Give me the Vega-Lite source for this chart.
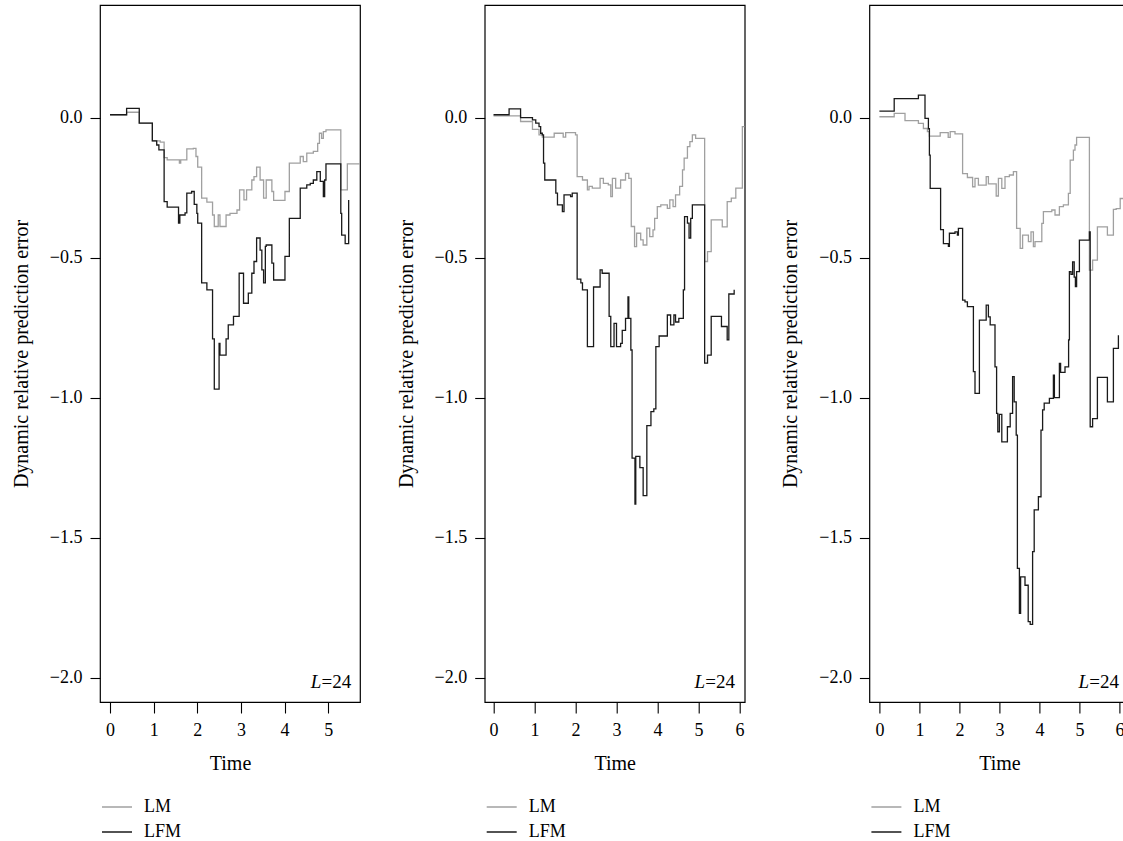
{
  "$schema": "https://vega.github.io/schema/vega-lite/v6.json",
  "background": "white",
  "padding": {"left": 10, "top": 4, "right": 0, "bottom": 0},
  "config": {
    "font": "Liberation Serif",
    "view": {"stroke": "#000000", "strokeWidth": 1.2},
    "axis": {
      "grid": false,
      "domain": false,
      "tickColor": "#000000",
      "tickWidth": 1.1,
      "labelColor": "#000000",
      "titleColor": "#000000",
      "labelFont": "Liberation Serif",
      "titleFont": "Liberation Serif",
      "labelFontSize": 18,
      "titleFontSize": 20,
      "titleFontWeight": "normal"
    },
    "axisY": {"tickSize": 10, "labelPadding": 8, "titlePadding": 18},
    "axisX": {"tickSize": 11, "labelPadding": 8, "titlePadding": 14},
    "legend": {
      "orient": "none",
      "legendX": 1,
      "legendY": 786,
      "symbolType": "stroke",
      "symbolSize": 900,
      "symbolStrokeWidth": 1.5,
      "labelFont": "Liberation Serif",
      "labelFontSize": 18,
      "labelColor": "#000000",
      "labelOffset": 11,
      "rowPadding": -2,
      "padding": 0,
      "title": null
    }
  },
  "datasets": {
    "p1": [
      {"model":"LM","t":0,"v":0.01},{"model":"LM","t":0.38,"v":0.019},{"model":"LM","t":0.67,"v":-0.02},{"model":"LM","t":0.97,"v":-0.083},{"model":"LM","t":1.15,"v":-0.088},{"model":"LM","t":1.24,"v":-0.143},{"model":"LM","t":1.31,"v":-0.151},{"model":"LM","t":1.59,"v":-0.163},{"model":"LM","t":1.62,"v":-0.151},{"model":"LM","t":1.76,"v":-0.112},{"model":"LM","t":1.91,"v":-0.11},{"model":"LM","t":1.97,"v":-0.139},{"model":"LM","t":2.01,"v":-0.177},{"model":"LM","t":2.10,"v":-0.288},{"model":"LM","t":2.22,"v":-0.302},{"model":"LM","t":2.35,"v":-0.348},{"model":"LM","t":2.39,"v":-0.389},{"model":"LM","t":2.48,"v":-0.348},{"model":"LM","t":2.52,"v":-0.389},{"model":"LM","t":2.66,"v":-0.348},{"model":"LM","t":2.75,"v":-0.342},{"model":"LM","t":2.91,"v":-0.33},{"model":"LM","t":2.97,"v":-0.258},{"model":"LM","t":3.07,"v":-0.294},{"model":"LM","t":3.13,"v":-0.258},{"model":"LM","t":3.25,"v":-0.223},{"model":"LM","t":3.30,"v":-0.211},{"model":"LM","t":3.36,"v":-0.177},{"model":"LM","t":3.44,"v":-0.223},{"model":"LM","t":3.52,"v":-0.288},{"model":"LM","t":3.58,"v":-0.223},{"model":"LM","t":3.71,"v":-0.264},{"model":"LM","t":3.75,"v":-0.296},{"model":"LM","t":4.01,"v":-0.264},{"model":"LM","t":4.11,"v":-0.163},{"model":"LM","t":4.36,"v":-0.139},{"model":"LM","t":4.43,"v":-0.157},{"model":"LM","t":4.51,"v":-0.127},{"model":"LM","t":4.66,"v":-0.121},{"model":"LM","t":4.76,"v":-0.092},{"model":"LM","t":4.80,"v":-0.056},{"model":"LM","t":4.85,"v":-0.074},{"model":"LM","t":4.89,"v":-0.05},{"model":"LM","t":4.95,"v":-0.044},{"model":"LM","t":5.29,"v":-0.258},{"model":"LM","t":5.44,"v":-0.165},{"model":"LM","t":5.73,"v":-0.165},
      {"model":"LFM","t":0,"v":0.01},{"model":"LFM","t":0.38,"v":0.033},{"model":"LFM","t":0.67,"v":-0.02},{"model":"LFM","t":0.97,"v":-0.083},{"model":"LFM","t":1.07,"v":-0.098},{"model":"LFM","t":1.12,"v":-0.115},{"model":"LFM","t":1.24,"v":-0.30},{"model":"LFM","t":1.31,"v":-0.32},{"model":"LFM","t":1.57,"v":-0.377},{"model":"LFM","t":1.60,"v":-0.348},{"model":"LFM","t":1.72,"v":-0.34},{"model":"LFM","t":1.76,"v":-0.27},{"model":"LFM","t":1.87,"v":-0.264},{"model":"LFM","t":1.93,"v":-0.31},{"model":"LFM","t":1.99,"v":-0.342},{"model":"LFM","t":2.01,"v":-0.377},{"model":"LFM","t":2.10,"v":-0.59},{"model":"LFM","t":2.22,"v":-0.615},{"model":"LFM","t":2.35,"v":-0.79},{"model":"LFM","t":2.39,"v":-0.97},{"model":"LFM","t":2.50,"v":-0.806},{"model":"LFM","t":2.52,"v":-0.848},{"model":"LFM","t":2.66,"v":-0.79},{"model":"LFM","t":2.71,"v":-0.74},{"model":"LFM","t":2.83,"v":-0.71},{"model":"LFM","t":2.96,"v":-0.556},{"model":"LFM","t":3.06,"v":-0.663},{"model":"LFM","t":3.17,"v":-0.627},{"model":"LFM","t":3.25,"v":-0.556},{"model":"LFM","t":3.30,"v":-0.514},{"model":"LFM","t":3.36,"v":-0.43},{"model":"LFM","t":3.44,"v":-0.473},{"model":"LFM","t":3.48,"v":-0.544},{"model":"LFM","t":3.52,"v":-0.59},{"model":"LFM","t":3.56,"v":-0.46},{"model":"LFM","t":3.58,"v":-0.455},{"model":"LFM","t":3.71,"v":-0.52},{"model":"LFM","t":3.75,"v":-0.58},{"model":"LFM","t":4.01,"v":-0.496},{"model":"LFM","t":4.11,"v":-0.36},{"model":"LFM","t":4.36,"v":-0.252},{"model":"LFM","t":4.51,"v":-0.24},{"model":"LFM","t":4.59,"v":-0.235},{"model":"LFM","t":4.66,"v":-0.223},{"model":"LFM","t":4.74,"v":-0.193},{"model":"LFM","t":4.82,"v":-0.228},{"model":"LFM","t":4.89,"v":-0.282},{"model":"LFM","t":4.92,"v":-0.223},{"model":"LFM","t":4.95,"v":-0.165},{"model":"LFM","t":5.29,"v":-0.342},{"model":"LFM","t":5.31,"v":-0.42},{"model":"LFM","t":5.39,"v":-0.45},{"model":"LFM","t":5.47,"v":-0.294}
    ],
    "p2": [
      {"model":"LM","t":0,"v":0.006},{"model":"LM","t":0.66,"v":-0.014},{"model":"LM","t":0.95,"v":-0.042},{"model":"LM","t":1.11,"v":-0.062},{"model":"LM","t":1.19,"v":-0.07},{"model":"LM","t":1.48,"v":-0.056},{"model":"LM","t":1.70,"v":-0.07},{"model":"LM","t":1.76,"v":-0.054},{"model":"LM","t":2.00,"v":-0.062},{"model":"LM","t":2.04,"v":-0.211},{"model":"LM","t":2.17,"v":-0.223},{"model":"LM","t":2.29,"v":-0.258},{"model":"LM","t":2.33,"v":-0.246},{"model":"LM","t":2.41,"v":-0.252},{"model":"LM","t":2.60,"v":-0.217},{"model":"LM","t":2.68,"v":-0.235},{"model":"LM","t":2.80,"v":-0.24},{"model":"LM","t":2.86,"v":-0.282},{"model":"LM","t":2.90,"v":-0.217},{"model":"LM","t":2.98,"v":-0.252},{"model":"LM","t":3.10,"v":-0.223},{"model":"LM","t":3.22,"v":-0.199},{"model":"LM","t":3.30,"v":-0.217},{"model":"LM","t":3.36,"v":-0.389},{"model":"LM","t":3.44,"v":-0.461},{"model":"LM","t":3.49,"v":-0.413},{"model":"LM","t":3.59,"v":-0.437},{"model":"LM","t":3.65,"v":-0.455},{"model":"LM","t":3.74,"v":-0.395},{"model":"LM","t":3.81,"v":-0.425},{"model":"LM","t":3.89,"v":-0.401},{"model":"LM","t":3.93,"v":-0.36},{"model":"LM","t":3.995,"v":-0.318},{"model":"LM","t":4.08,"v":-0.312},{"model":"LM","t":4.24,"v":-0.324},{"model":"LM","t":4.30,"v":-0.294},{"model":"LM","t":4.38,"v":-0.318},{"model":"LM","t":4.44,"v":-0.276},{"model":"LM","t":4.54,"v":-0.246},{"model":"LM","t":4.61,"v":-0.187},{"model":"LM","t":4.65,"v":-0.145},{"model":"LM","t":4.73,"v":-0.104},{"model":"LM","t":4.79,"v":-0.086},{"model":"LM","t":4.85,"v":-0.062},{"model":"LM","t":4.93,"v":-0.074},{"model":"LM","t":5.15,"v":-0.514},{"model":"LM","t":5.22,"v":-0.479},{"model":"LM","t":5.31,"v":-0.365},{"model":"LM","t":5.58,"v":-0.39},{"model":"LM","t":5.70,"v":-0.30},{"model":"LM","t":5.80,"v":-0.288},{"model":"LM","t":5.91,"v":-0.252},{"model":"LM","t":6.07,"v":-0.032},{"model":"LM","t":6.13,"v":-0.032},
      {"model":"LFM","t":0,"v":0.01},{"model":"LFM","t":0.38,"v":0.031},{"model":"LFM","t":0.66,"v":0.0},{"model":"LFM","t":0.95,"v":-0.008},{"model":"LFM","t":1.03,"v":-0.02},{"model":"LFM","t":1.11,"v":-0.032},{"model":"LFM","t":1.15,"v":-0.056},{"model":"LFM","t":1.19,"v":-0.062},{"model":"LFM","t":1.22,"v":-0.163},{"model":"LFM","t":1.25,"v":-0.223},{"model":"LFM","t":1.52,"v":-0.27},{"model":"LFM","t":1.56,"v":-0.312},{"model":"LFM","t":1.68,"v":-0.336},{"model":"LFM","t":1.72,"v":-0.276},{"model":"LFM","t":1.88,"v":-0.282},{"model":"LFM","t":1.92,"v":-0.27},{"model":"LFM","t":2.04,"v":-0.577},{"model":"LFM","t":2.13,"v":-0.59},{"model":"LFM","t":2.17,"v":-0.615},{"model":"LFM","t":2.29,"v":-0.818},{"model":"LFM","t":2.44,"v":-0.605},{"model":"LFM","t":2.60,"v":-0.544},{"model":"LFM","t":2.65,"v":-0.556},{"model":"LFM","t":2.82,"v":-0.71},{"model":"LFM","t":2.86,"v":-0.818},{"model":"LFM","t":2.94,"v":-0.735},{"model":"LFM","t":3.00,"v":-0.818},{"model":"LFM","t":3.10,"v":-0.806},{"model":"LFM","t":3.14,"v":-0.76},{"model":"LFM","t":3.22,"v":-0.717},{"model":"LFM","t":3.28,"v":-0.64},{"model":"LFM","t":3.30,"v":-0.717},{"model":"LFM","t":3.35,"v":-0.83},{"model":"LFM","t":3.38,"v":-1.216},{"model":"LFM","t":3.45,"v":-1.38},{"model":"LFM","t":3.47,"v":-1.21},{"model":"LFM","t":3.57,"v":-1.25},{"model":"LFM","t":3.65,"v":-1.35},{"model":"LFM","t":3.74,"v":-1.10},{"model":"LFM","t":3.84,"v":-1.05},{"model":"LFM","t":3.91,"v":-1.04},{"model":"LFM","t":3.96,"v":-0.818},{"model":"LFM","t":4.04,"v":-0.78},{"model":"LFM","t":4.24,"v":-0.705},{"model":"LFM","t":4.32,"v":-0.74},{"model":"LFM","t":4.40,"v":-0.705},{"model":"LFM","t":4.44,"v":-0.73},{"model":"LFM","t":4.52,"v":-0.717},{"model":"LFM","t":4.63,"v":-0.615},{"model":"LFM","t":4.66,"v":-0.354},{"model":"LFM","t":4.73,"v":-0.377},{"model":"LFM","t":4.77,"v":-0.43},{"model":"LFM","t":4.81,"v":-0.36},{"model":"LFM","t":4.85,"v":-0.312},{"model":"LFM","t":5.15,"v":-0.877},{"model":"LFM","t":5.22,"v":-0.848},{"model":"LFM","t":5.31,"v":-0.71},{"model":"LFM","t":5.56,"v":-0.746},{"model":"LFM","t":5.70,"v":-0.794},{"model":"LFM","t":5.74,"v":-0.63},{"model":"LFM","t":5.87,"v":-0.615}
    ],
    "p3": [
      {"model":"LM","t":0,"v":0.003},{"model":"LM","t":0.37,"v":0.015},{"model":"LM","t":0.64,"v":-0.011},{"model":"LM","t":0.975,"v":-0.021},{"model":"LM","t":1.1,"v":-0.039},{"model":"LM","t":1.2,"v":-0.05},{"model":"LM","t":1.25,"v":-0.066},{"model":"LM","t":1.52,"v":-0.054},{"model":"LM","t":1.72,"v":-0.071},{"model":"LM","t":1.77,"v":-0.05},{"model":"LM","t":1.89,"v":-0.058},{"model":"LM","t":2.08,"v":-0.2},{"model":"LM","t":2.2,"v":-0.214},{"model":"LM","t":2.33,"v":-0.247},{"model":"LM","t":2.39,"v":-0.217},{"model":"LM","t":2.475,"v":-0.241},{"model":"LM","t":2.67,"v":-0.211},{"model":"LM","t":2.725,"v":-0.237},{"model":"LM","t":2.92,"v":-0.28},{"model":"LM","t":2.975,"v":-0.217},{"model":"LM","t":3.06,"v":-0.253},{"model":"LM","t":3.14,"v":-0.211},{"model":"LM","t":3.25,"v":-0.205},{"model":"LM","t":3.35,"v":-0.193},{"model":"LM","t":3.43,"v":-0.396},{"model":"LM","t":3.52,"v":-0.467},{"model":"LM","t":3.58,"v":-0.42},{"model":"LM","t":3.725,"v":-0.443},{"model":"LM","t":3.79,"v":-0.408},{"model":"LM","t":3.85,"v":-0.461},{"model":"LM","t":3.89,"v":-0.443},{"model":"LM","t":4.06,"v":-0.378},{"model":"LM","t":4.1,"v":-0.336},{"model":"LM","t":4.31,"v":-0.33},{"model":"LM","t":4.39,"v":-0.348},{"model":"LM","t":4.5,"v":-0.318},{"model":"LM","t":4.6,"v":-0.312},{"model":"LM","t":4.725,"v":-0.271},{"model":"LM","t":4.77,"v":-0.152},{"model":"LM","t":4.85,"v":-0.116},{"model":"LM","t":4.89,"v":-0.098},{"model":"LM","t":4.93,"v":-0.071},{"model":"LM","t":5.25,"v":-0.545},{"model":"LM","t":5.33,"v":-0.509},{"model":"LM","t":5.45,"v":-0.39},{"model":"LM","t":5.7,"v":-0.42},{"model":"LM","t":5.85,"v":-0.328},{"model":"LM","t":5.92,"v":-0.325},{"model":"LM","t":6.02,"v":-0.289},{"model":"LM","t":6.15,"v":-0.28},{"model":"LM","t":6.25,"v":-0.28},
      {"model":"LFM","t":0,"v":0.023},{"model":"LFM","t":0.37,"v":0.068},{"model":"LFM","t":0.975,"v":0.08},{"model":"LFM","t":1.14,"v":-0.003},{"model":"LFM","t":1.225,"v":-0.04},{"model":"LFM","t":1.25,"v":-0.134},{"model":"LFM","t":1.27,"v":-0.253},{"model":"LFM","t":1.53,"v":-0.40},{"model":"LFM","t":1.6,"v":-0.45},{"model":"LFM","t":1.725,"v":-0.46},{"model":"LFM","t":1.75,"v":-0.413},{"model":"LFM","t":1.89,"v":-0.408},{"model":"LFM","t":1.95,"v":-0.42},{"model":"LFM","t":1.975,"v":-0.396},{"model":"LFM","t":2.08,"v":-0.652},{"model":"LFM","t":2.14,"v":-0.658},{"model":"LFM","t":2.2,"v":-0.675},{"model":"LFM","t":2.35,"v":-0.907},{"model":"LFM","t":2.39,"v":-0.985},{"model":"LFM","t":2.5,"v":-0.723},{"model":"LFM","t":2.67,"v":-0.67},{"model":"LFM","t":2.725,"v":-0.712},{"model":"LFM","t":2.77,"v":-0.74},{"model":"LFM","t":2.89,"v":-0.89},{"model":"LFM","t":2.93,"v":-1.056},{"model":"LFM","t":2.96,"v":-1.122},{"model":"LFM","t":3.0,"v":-1.06},{"model":"LFM","t":3.06,"v":-1.158},{"model":"LFM","t":3.2,"v":-1.104},{"model":"LFM","t":3.27,"v":-1.056},{"model":"LFM","t":3.33,"v":-0.925},{"model":"LFM","t":3.37,"v":-1.015},{"model":"LFM","t":3.42,"v":-1.134},{"model":"LFM","t":3.45,"v":-1.61},{"model":"LFM","t":3.5,"v":-1.77},{"model":"LFM","t":3.53,"v":-1.64},{"model":"LFM","t":3.64,"v":-1.67},{"model":"LFM","t":3.72,"v":-1.80},{"model":"LFM","t":3.77,"v":-1.81},{"model":"LFM","t":3.83,"v":-1.55},{"model":"LFM","t":3.87,"v":-1.401},{"model":"LFM","t":3.975,"v":-1.354},{"model":"LFM","t":4.04,"v":-1.116},{"model":"LFM","t":4.08,"v":-1.044},{"model":"LFM","t":4.12,"v":-1.02},{"model":"LFM","t":4.25,"v":-1.003},{"model":"LFM","t":4.35,"v":-0.92},{"model":"LFM","t":4.375,"v":-1.0},{"model":"LFM","t":4.5,"v":-0.878},{"model":"LFM","t":4.53,"v":-0.91},{"model":"LFM","t":4.64,"v":-0.89},{"model":"LFM","t":4.73,"v":-0.794},{"model":"LFM","t":4.75,"v":-0.55},{"model":"LFM","t":4.79,"v":-0.56},{"model":"LFM","t":4.83,"v":-0.515},{"model":"LFM","t":4.87,"v":-0.57},{"model":"LFM","t":4.9,"v":-0.604},{"model":"LFM","t":4.93,"v":-0.55},{"model":"LFM","t":5.0,"v":-0.4375},{"model":"LFM","t":5.25,"v":-0.408},{"model":"LFM","t":5.27,"v":-1.104},{"model":"LFM","t":5.33,"v":-1.075},{"model":"LFM","t":5.45,"v":-0.928},{"model":"LFM","t":5.7,"v":-1.015},{"model":"LFM","t":5.85,"v":-0.824},{"model":"LFM","t":5.975,"v":-0.777}
    ],
    "tag": [{"eq": "=24", "ell": "L"}]
  },
  "spacing": 124.7,
  "bounds": "flush",
  "resolve": {
    "scale": {"x": "independent", "y": "independent"},
    "legend": {"color": "independent"}
  },
  "hconcat": [
    {
      "width": 260,
      "height": 697,
      "layer": [
        {
          "data": {"name": "p1"},
          "mark": {"type": "line", "interpolate": "step-after", "strokeWidth": 1.3, "clip": true},
          "encoding": {
            "x": {"field": "t", "type": "quantitative", "scale": {"domain": [-0.23, 5.73], "nice": false, "zero": false}, "axis": {"values": [0, 1, 2, 3, 4, 5], "format": "d", "title": "Time"}},
            "y": {"field": "v", "type": "quantitative", "scale": {"domain": [-2.087, 0.402], "nice": false, "zero": false}, "axis": {"values": [0, -0.5, -1, -1.5, -2], "format": ".1f", "title": "Dynamic relative prediction error"}},
            "color": {"field": "model", "type": "nominal", "scale": {"domain": ["LM", "LFM"], "range": ["#a0a0a0", "#1a1a1a"]}}
          }
        },
        {
          "data": {"name": "tag"},
          "mark": {"type": "text", "align": "right", "baseline": "middle", "fontSize": 19, "font": "Liberation Serif", "color": "#000000"},
          "encoding": {"x": {"datum": 5.53}, "y": {"datum": -2.015}, "text": {"field": "eq"}}
        },
        {
          "data": {"name": "tag"},
          "mark": {"type": "text", "align": "right", "baseline": "middle", "fontSize": 19, "font": "Liberation Serif", "fontStyle": "italic", "color": "#000000", "dx": -30},
          "encoding": {"x": {"datum": 5.53}, "y": {"datum": -2.015}, "text": {"field": "ell"}}
        }
      ]
    },
    {
      "width": 260,
      "height": 697,
      "layer": [
        {
          "data": {"name": "p2"},
          "mark": {"type": "line", "interpolate": "step-after", "strokeWidth": 1.3, "clip": true},
          "encoding": {
            "x": {"field": "t", "type": "quantitative", "scale": {"domain": [-0.215, 6.127], "nice": false, "zero": false}, "axis": {"values": [0, 1, 2, 3, 4, 5, 6], "format": "d", "title": "Time"}},
            "y": {"field": "v", "type": "quantitative", "scale": {"domain": [-2.087, 0.402], "nice": false, "zero": false}, "axis": {"values": [0, -0.5, -1, -1.5, -2], "format": ".1f", "title": "Dynamic relative prediction error"}},
            "color": {"field": "model", "type": "nominal", "scale": {"domain": ["LM", "LFM"], "range": ["#a0a0a0", "#1a1a1a"]}}
          }
        },
        {
          "data": {"name": "tag"},
          "mark": {"type": "text", "align": "right", "baseline": "middle", "fontSize": 19, "font": "Liberation Serif", "color": "#000000"},
          "encoding": {"x": {"datum": 5.89}, "y": {"datum": -2.015}, "text": {"field": "eq"}}
        },
        {
          "data": {"name": "tag"},
          "mark": {"type": "text", "align": "right", "baseline": "middle", "fontSize": 19, "font": "Liberation Serif", "fontStyle": "italic", "color": "#000000", "dx": -30},
          "encoding": {"x": {"datum": 5.89}, "y": {"datum": -2.015}, "text": {"field": "ell"}}
        }
      ]
    },
    {
      "width": 260,
      "height": 697,
      "layer": [
        {
          "data": {"name": "p3"},
          "mark": {"type": "line", "interpolate": "step-after", "strokeWidth": 1.3, "clip": true},
          "encoding": {
            "x": {"field": "t", "type": "quantitative", "scale": {"domain": [-0.25, 6.25], "nice": false, "zero": false}, "axis": {"values": [0, 1, 2, 3, 4, 5, 6], "format": "d", "title": "Time"}},
            "y": {"field": "v", "type": "quantitative", "scale": {"domain": [-2.087, 0.402], "nice": false, "zero": false}, "axis": {"values": [0, -0.5, -1, -1.5, -2], "format": ".1f", "title": "Dynamic relative prediction error"}},
            "color": {"field": "model", "type": "nominal", "scale": {"domain": ["LM", "LFM"], "range": ["#a0a0a0", "#1a1a1a"]}}
          }
        },
        {
          "data": {"name": "tag"},
          "mark": {"type": "text", "align": "right", "baseline": "middle", "fontSize": 19, "font": "Liberation Serif", "color": "#000000"},
          "encoding": {"x": {"datum": 5.99}, "y": {"datum": -2.015}, "text": {"field": "eq"}}
        },
        {
          "data": {"name": "tag"},
          "mark": {"type": "text", "align": "right", "baseline": "middle", "fontSize": 19, "font": "Liberation Serif", "fontStyle": "italic", "color": "#000000", "dx": -30},
          "encoding": {"x": {"datum": 5.99}, "y": {"datum": -2.015}, "text": {"field": "ell"}}
        }
      ]
    }
  ]
}
